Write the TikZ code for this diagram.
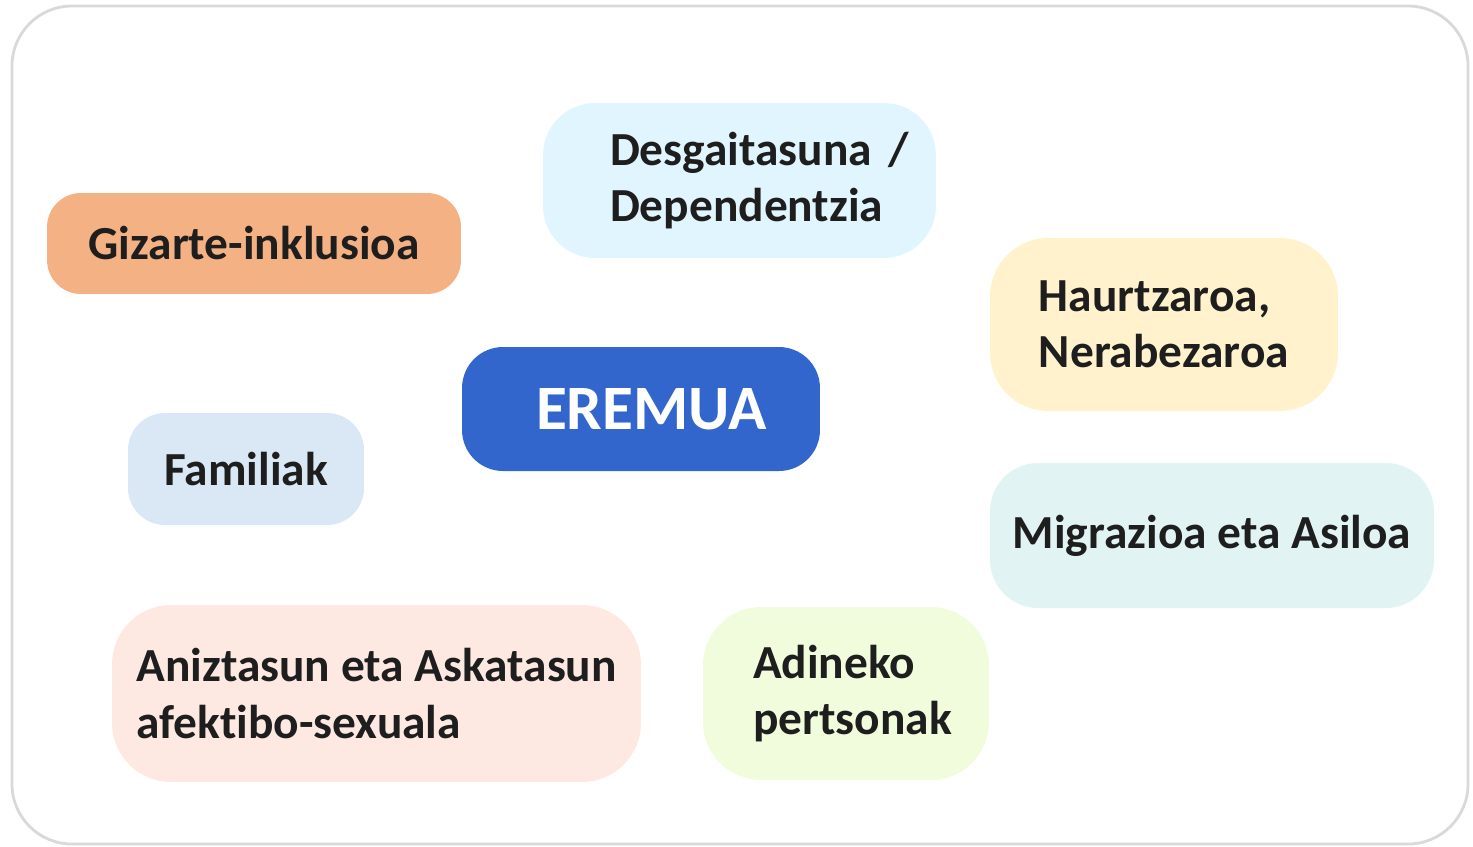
\documentclass[tikz,border=0pt]{standalone}
\usepackage{fontspec}
\setmainfont{Carlito}[Ligatures=NoCommon]
\definecolor{cadre}{RGB}{217,217,217}
\definecolor{texte}{RGB}{30,30,30}
\definecolor{gizarte}{RGB}{244,177,131}
\definecolor{desgai}{RGB}{225,245,254}
\definecolor{haur}{RGB}{255,242,204}
\definecolor{eremua}{RGB}{51,102,204}
\definecolor{famili}{RGB}{218,232,245}
\definecolor{migra}{RGB}{226,243,243}
\definecolor{anizt}{RGB}{253,233,225}
\definecolor{adin}{RGB}{240,252,219}

\begin{document}
\begin{tikzpicture}[x=0.02cm, y=-0.02cm,
  eremu/.style={rounded corners=#1, align=left, inner sep=0pt, text=texte,
    font=\bfseries\fontsize{27}{32}\selectfont}]
\useasboundingbox (0,0) rectangle (1473,846);

% Cadre
\draw[cadre, line width=1.6pt, rounded corners=1.2cm] (12,6) rectangle (1468,844);

% Centre
\node[eremu=0.82cm, fill=eremua, text=white, font=\bfseries\fontsize{36}{43}\selectfont,
  minimum width=7.16cm, minimum height=2.48cm, text width=4.2cm] (eremua) at (641,409) {EREMUA};

% Eremuak
\node[eremu=0.68cm, fill=gizarte, minimum width=8.28cm, minimum height=2.02cm] (gizarte) at (254,243.5) {Gizarte-inklusioa};
\node[eremu=1.04cm, fill=desgai, minimum width=7.86cm, minimum height=3.1cm, text width=5.18cm] (desgai) at (739.5,180.5) {Desgaitasuna~/\\Dependentzia};
\node[eremu=1.16cm, fill=haur, minimum width=6.96cm, minimum height=3.46cm] (haur) at (1164,324.5) {Haurtzaroa,\\Nerabezaroa};
\node[eremu=0.74cm, fill=famili, minimum width=4.72cm, minimum height=2.24cm] (famili) at (246,469) {Familiak};
\node[eremu=0.96cm, fill=migra, minimum width=8.88cm, minimum height=2.9cm] (migra) at (1212,535.5) {Migrazioa eta Asiloa};
\node[eremu=1.18cm, fill=anizt, minimum width=10.58cm, minimum height=3.54cm] (anizt) at (376.5,693.5) {Aniztasun eta Askatasun\\afektibo-sexuala};
\node[eremu=1.16cm, fill=adin, minimum width=5.72cm, minimum height=3.46cm, text width=3.72cm] (adin) at (846,693.5) {Adineko\\pertsonak};

\end{tikzpicture}
\end{document}
